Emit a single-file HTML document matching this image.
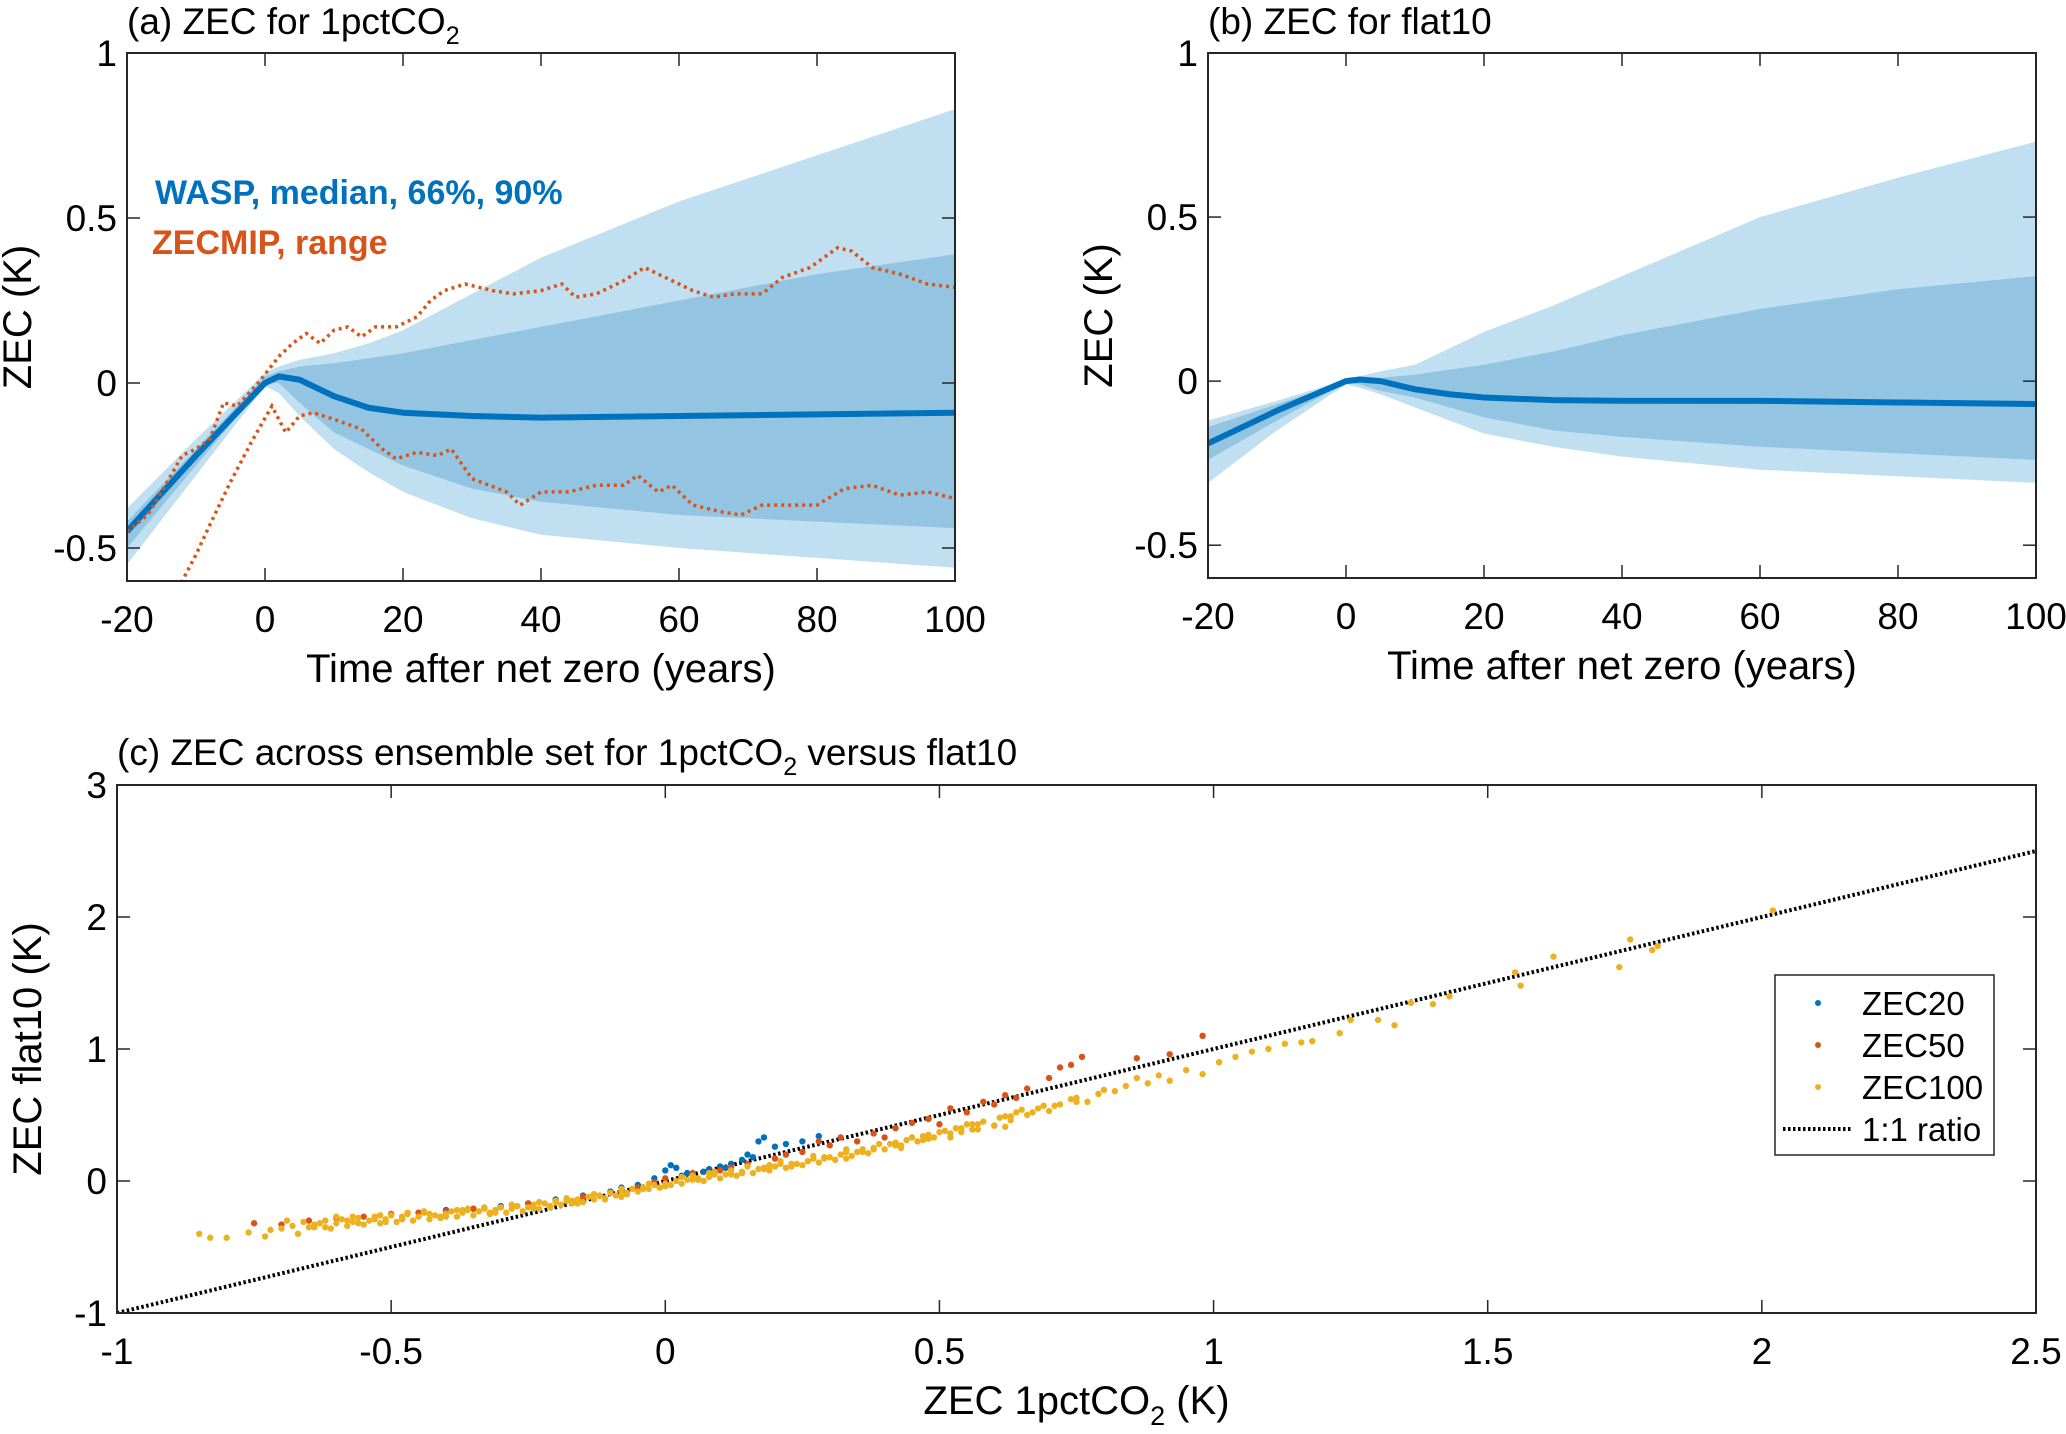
<!DOCTYPE html>
<html><head><meta charset="utf-8"><style>
body{margin:0;background:#fff;}
svg{display:block;font-family:"Liberation Sans",Arial,sans-serif;}
</style></head><body>
<svg id="fig" width="2066" height="1434" viewBox="0 0 2066 1434" xmlns="http://www.w3.org/2000/svg">
<rect x="0" y="0" width="2066" height="1434" fill="#fff"/>
</svg>
<script>
// ---- panel (a) data ----
const aYears=[-20,-10,0,2,5,10,15,20,30,40,60,80,100];
const aMedian=[-0.45,-0.22,0.0,0.02,0.01,-0.04,-0.075,-0.09,-0.1,-0.105,-0.1,-0.095,-0.09];
const a66Up=[-0.42,-0.2,0.02,0.035,0.05,0.06,0.075,0.09,0.13,0.17,0.25,0.33,0.39];
const a66Lo=[-0.5,-0.25,0.0,0.0,-0.06,-0.15,-0.2,-0.25,-0.32,-0.36,-0.4,-0.42,-0.44];
const a90Up=[-0.38,-0.17,0.03,0.05,0.07,0.09,0.12,0.16,0.27,0.38,0.55,0.69,0.83];
const a90Lo=[-0.55,-0.28,-0.01,-0.03,-0.1,-0.2,-0.27,-0.33,-0.41,-0.46,-0.5,-0.53,-0.56];
const zmUpX=[-20,-17,-15,-12,-10,-8,-6,-4,-1,2,4,6,8,10,12,14,16,19,22,24,26,29,33,36,40,43,45,48,52,55,58,62,65,68,72,75,79,83,85,88,92,96,100];
const zmUpY=[-0.45,-0.4,-0.33,-0.22,-0.2,-0.17,-0.06,-0.07,0.0,0.08,0.12,0.15,0.12,0.16,0.17,0.14,0.17,0.17,0.2,0.25,0.28,0.3,0.28,0.27,0.28,0.3,0.26,0.27,0.31,0.35,0.32,0.28,0.26,0.27,0.27,0.32,0.35,0.41,0.4,0.35,0.33,0.3,0.29];
const zmLoX=[-14,-12,-10,-8,-5,-2,1,3,5,7,10,14,17,19,22,25,27,30,35,37,40,44,48,52,54,57,59,62,66,69,72,76,80,84,88,92,96,100];
const zmLoY=[-0.68,-0.6,-0.52,-0.43,-0.3,-0.18,-0.07,-0.15,-0.1,-0.09,-0.11,-0.14,-0.2,-0.23,-0.21,-0.22,-0.2,-0.29,-0.33,-0.37,-0.33,-0.33,-0.31,-0.31,-0.28,-0.33,-0.31,-0.37,-0.39,-0.4,-0.37,-0.37,-0.37,-0.32,-0.31,-0.34,-0.33,-0.35];
// ---- panel (b) data ----
const bYears=[-20,-10,0,2,5,10,15,20,30,40,60,80,100];
const bMedian=[-0.19,-0.09,0.0,0.005,0.0,-0.025,-0.04,-0.05,-0.058,-0.06,-0.06,-0.065,-0.07];
const b66Up=[-0.14,-0.07,0.0,0.005,0.01,0.02,0.035,0.05,0.09,0.14,0.22,0.28,0.32];
const b66Lo=[-0.24,-0.12,-0.005,-0.01,-0.03,-0.05,-0.08,-0.11,-0.15,-0.17,-0.2,-0.22,-0.24];
const b90Up=[-0.12,-0.06,0.005,0.015,0.03,0.05,0.1,0.15,0.23,0.32,0.5,0.62,0.73];
const b90Lo=[-0.31,-0.15,-0.01,-0.02,-0.04,-0.08,-0.12,-0.16,-0.2,-0.23,-0.27,-0.29,-0.31];
// ---- panel (c) data ----
const z20X=[-0.40,-0.35,-0.30,-0.25,-0.20,-0.15,-0.10,-0.05,0.0,0.01,0.02,0.04,0.05,0.08,0.10,0.12,0.14,0.15,0.17,0.18,0.20,0.22,0.25,0.28,0.03,0.07,0.11,0.16,-0.02,-0.08];
const z20Y=[-0.22,-0.21,-0.19,-0.17,-0.14,-0.11,-0.08,-0.03,0.08,0.12,0.10,0.06,0.05,0.09,0.11,0.13,0.16,0.2,0.30,0.33,0.26,0.28,0.30,0.34,0.04,0.07,0.10,0.18,0.02,-0.05];
const z50X=[-0.75,-0.70,-0.65,-0.60,-0.55,-0.50,-0.45,-0.40,-0.35,-0.30,-0.25,-0.20,-0.15,-0.10,-0.05,-0.02,0.0,0.05,0.10,0.15,0.20,0.25,0.30,0.32,0.35,0.38,0.42,0.45,0.48,0.52,0.55,0.58,0.62,0.66,0.70,0.72,0.74,0.76,0.86,0.92,0.98,0.40,0.50,0.60,0.64,0.28,0.22,0.12];
const z50Y=[-0.32,-0.33,-0.30,-0.28,-0.27,-0.25,-0.24,-0.23,-0.21,-0.20,-0.17,-0.15,-0.12,-0.09,-0.05,-0.01,0.02,0.06,0.08,0.13,0.17,0.22,0.27,0.33,0.30,0.36,0.40,0.44,0.47,0.55,0.52,0.60,0.65,0.70,0.78,0.86,0.88,0.94,0.93,0.96,1.10,0.33,0.43,0.58,0.63,0.30,0.20,0.10];
const z100X=[-0.85,-0.83,-0.80,-0.76,-0.73,-0.72,-0.70,-0.68,-0.67,-0.66,-0.65,-0.64,-0.62,-0.61,-0.60,-0.59,-0.58,-0.57,-0.56,-0.55,-0.54,-0.53,-0.52,-0.51,-0.50,-0.49,-0.48,-0.47,-0.46,-0.45,-0.44,-0.43,-0.42,-0.41,-0.40,-0.39,-0.38,-0.37,-0.36,-0.35,-0.34,-0.33,-0.32,-0.31,-0.30,-0.29,-0.28,-0.27,-0.26,-0.25,-0.24,-0.23,-0.22,-0.21,-0.20,-0.19,-0.18,-0.17,-0.16,-0.15,-0.14,-0.13,-0.12,-0.11,-0.10,-0.09,-0.08,-0.07,-0.06,-0.05,-0.04,-0.03,-0.02,-0.01,0.00,0.01,0.02,0.03,0.04,0.06,0.07,0.08,0.10,0.11,0.13,0.14,0.16,0.17,0.19,0.20,0.22,0.23,0.25,0.26,0.28,0.29,0.31,0.32,0.34,0.35,0.37,0.38,0.40,0.41,0.43,0.44,0.46,0.47,0.49,0.50,0.52,0.54,0.55,0.57,0.58,0.60,0.61,0.63,0.64,0.66,0.68,0.70,0.72,0.74,0.77,0.79,0.82,0.84,0.86,0.88,0.90,0.92,0.95,0.98,1.01,1.04,1.07,1.10,1.13,1.16,1.18,1.23,1.25,1.30,1.33,1.36,1.40,1.43,1.56,1.55,1.62,1.74,1.76,1.80,1.81,2.02,
-0.63,-0.58,-0.53,-0.48,-0.43,-0.38,-0.33,-0.28,-0.23,-0.18,-0.13,-0.08,-0.03,0.05,0.09,0.12,0.18,0.21,0.27,0.33,0.36,0.42,0.45,0.48,0.53,0.56,0.62,0.65,0.69,0.75,
-0.69,-0.64,-0.60,-0.56,-0.52,-0.48,-0.44,-0.40,-0.36,-0.32,-0.28,-0.24,-0.20,-0.16,-0.12,-0.08,-0.04,0.00,0.03,0.06,0.09,0.12,0.15,0.18,0.21,0.24,0.27,0.30,0.33,0.36,0.39,0.42,0.45,0.48,0.51,0.54,0.57,0.60,0.63,0.67,0.71,0.75,0.80,
-0.62,-0.57,-0.51,-0.47,-0.41,-0.37,-0.31,-0.27,-0.21,-0.17,-0.11,-0.07,-0.01,0.05,0.08,0.14,0.19,0.23,0.29,0.33,0.38,0.43,0.47,0.52,0.56,0.62];
const z100Y=[-0.40,-0.43,-0.43,-0.39,-0.42,-0.37,-0.36,-0.34,-0.40,-0.31,-0.35,-0.33,-0.30,-0.36,-0.32,-0.29,-0.34,-0.31,-0.28,-0.33,-0.30,-0.27,-0.32,-0.29,-0.26,-0.31,-0.28,-0.25,-0.30,-0.27,-0.24,-0.29,-0.26,-0.28,-0.25,-0.23,-0.27,-0.24,-0.22,-0.26,-0.23,-0.21,-0.25,-0.22,-0.20,-0.24,-0.21,-0.19,-0.23,-0.20,-0.18,-0.21,-0.17,-0.19,-0.16,-0.18,-0.15,-0.17,-0.14,-0.16,-0.12,-0.14,-0.11,-0.13,-0.09,-0.11,-0.08,-0.10,-0.06,-0.08,-0.05,-0.06,-0.03,-0.05,-0.02,-0.03,0.00,-0.02,0.01,0.02,0.00,0.03,0.02,0.05,0.04,0.07,0.06,0.09,0.08,0.11,0.10,0.13,0.12,0.15,0.14,0.17,0.16,0.20,0.19,0.22,0.21,0.25,0.24,0.28,0.27,0.31,0.30,0.34,0.33,0.37,0.36,0.40,0.43,0.39,0.45,0.42,0.48,0.46,0.52,0.50,0.55,0.53,0.58,0.62,0.60,0.66,0.68,0.72,0.78,0.74,0.80,0.76,0.84,0.81,0.90,0.94,0.98,1.00,1.04,1.05,1.06,1.12,1.22,1.22,1.18,1.35,1.34,1.40,1.48,1.58,1.70,1.62,1.83,1.75,1.78,2.05,
-0.32,-0.30,-0.29,-0.27,-0.25,-0.22,-0.20,-0.18,-0.16,-0.13,-0.10,-0.06,-0.02,0.04,0.05,0.08,0.10,0.13,0.17,0.22,0.24,0.29,0.33,0.35,0.40,0.43,0.49,0.54,0.57,0.60,
-0.30,-0.35,-0.27,-0.32,-0.26,-0.29,-0.23,-0.27,-0.21,-0.24,-0.18,-0.21,-0.15,-0.17,-0.11,-0.12,-0.06,-0.04,0.03,0.01,0.07,0.05,0.11,0.09,0.15,0.13,0.19,0.18,0.24,0.22,0.28,0.27,0.33,0.32,0.38,0.37,0.43,0.42,0.49,0.52,0.57,0.63,0.69,
-0.35,-0.27,-0.31,-0.24,-0.27,-0.22,-0.24,-0.19,-0.20,-0.15,-0.14,-0.09,-0.05,0.01,0.06,0.06,0.12,0.11,0.18,0.17,0.24,0.25,0.31,0.33,0.39,0.41];

const NS='http://www.w3.org/2000/svg';
const svg=document.getElementById('fig');
function el(tag,attrs,parent){const e=document.createElementNS(NS,tag);for(const k in attrs)e.setAttribute(k,attrs[k]);(parent||svg).appendChild(e);return e;}
function txt(s,x,y,size,anchor,parent,extra){const t=el('text',Object.assign({x:x,y:y,'font-size':size,'text-anchor':anchor||'start',fill:'#000'},extra||{}),parent);t.textContent=s;return t;}
function scale(d0,d1,r0,r1){return v=>r0+(v-d0)*(r1-r0)/(d1-d0);}

function axesFrame(g,L,R,T,B,xs,ys,xt,yt,xLab,yLab,name){
  const tl=13;
  xt.forEach(v=>{const X=xs(v);
    const t1=el('line',{x1:X,x2:X,y1:B,y2:B-tl,stroke:'#262626','stroke-width':1.5},g);
    
    el('line',{x1:X,x2:X,y1:T,y2:T+tl,stroke:'#262626','stroke-width':1.5},g);
    const lb=txt(xLab(v),X,B+51,37,'middle',g);
    
  });
  yt.forEach(v=>{const Y=ys(v);
    const t1=el('line',{x1:L,x2:L+tl,y1:Y,y2:Y,stroke:'#262626','stroke-width':1.5},g);
    
    el('line',{x1:R,x2:R-tl,y1:Y,y2:Y,stroke:'#262626','stroke-width':1.5},g);
    const lb=txt(yLab(v),L-10,Y+13,37,'end',g);
    
  });
  const box=el('rect',{x:L,y:T,width:R-L,height:B-T,fill:'none',stroke:'#262626','stroke-width':2},g);
  
}
function fmt(v){return (v<0?'-':'')+String(Math.abs(v));}
function area(g,xs,ys,X,U,Lo,color,name){
  let d='';X.forEach((x,i)=>{d+=(i?'L':'M')+xs(x)+','+ys(U[i]);});
  for(let i=X.length-1;i>=0;i--)d+='L'+xs(X[i])+','+ys(Lo[i]);
  const p=el('path',{d:d+'Z',fill:color,stroke:'none'},g);
  return p;
}
function line(g,xs,ys,X,Y,attrs,name){
  const pts=X.map((x,i)=>xs(x)+','+ys(Y[i])).join(' ');
  const p=el('polyline',Object.assign({points:pts,fill:'none'},attrs),g);
  return p;
}

function timePanel(id,L,R,T,B,X,med,u66,l66,u90,l90,title){
  const g=el('g',{});
  
  const xs=scale(-20,100,L,R), ys=scale(-0.6,1,B,T);
  const clipId=id+'-clip';
  const cp=el('clipPath',{id:clipId},g);el('rect',{x:L,y:T,width:R-L,height:B-T},cp);
  const pg=el('g',{'clip-path':'url(#'+clipId+')'},g);
  area(pg,xs,ys,X,u90,l90,'#c0dff0','band-90');
  area(pg,xs,ys,X,u66,l66,'#93c5e2','band-66');
  line(pg,xs,ys,X,med,{stroke:'#0072BD','stroke-width':6,'stroke-linejoin':'round'},'median-line');
  axesFrame(g,L,R,T,B,xs,ys,[-20,0,20,40,60,80,100],[-0.5,0,0.5,1],fmt,fmt,id);
  const xl=txt('Time after net zero (years)',(L+R)/2,B+101,40,'middle',g);
  
  const yl=txt('ZEC (K)',0,0,40,'middle',g,{transform:'translate('+(L-96)+','+((T+B)/2)+') rotate(-90)'});
  
  const tt=el('text',{x:L,y:T-19,'font-size':37,fill:'#000'},g);
  
  tt.innerHTML=title;
  return {g,pg,xs,ys};
}

const A=timePanel('panel-a',127,955,53,581,aYears,aMedian,a66Up,a66Lo,a90Up,a90Lo,'(a) ZEC for 1pctCO<tspan font-size="25" dy="10">2</tspan>');
line(A.pg,A.xs,A.ys,zmUpX,zmUpY,{stroke:'#D95319','stroke-width':3.5,'stroke-dasharray':'3 4'},'zecmip-upper');
line(A.pg,A.xs,A.ys,zmLoX,zmLoY,{stroke:'#D95319','stroke-width':3.5,'stroke-dasharray':'3 4'},'zecmip-lower');
const an1=txt('WASP, median, 66%, 90%',155,204,34,'start',A.g,{'font-weight':'bold',fill:'#0072BD'});

const an2=txt('ZECMIP, range',152,254,34,'start',A.g,{'font-weight':'bold',fill:'#D95319'});


const Bp=timePanel('panel-b',1208,2036,53,578,bYears,bMedian,b66Up,b66Lo,b90Up,b90Lo,'(b) ZEC for flat10');

// panel c
(function(){
  const L=117,R=2036,T=785,B=1313;
  const g=el('g',{});
  
  const xs=scale(-1,2.5,L,R), ys=scale(-1,3,B,T);
  const cp=el('clipPath',{id:'c-clip'},g);el('rect',{x:L,y:T,width:R-L,height:B-T},cp);
  const pg=el('g',{'clip-path':'url(#c-clip)'},g);
  const ratio=el('line',{x1:xs(-1),y1:ys(-1),x2:xs(2.5),y2:ys(2.5),stroke:'#000','stroke-width':4,'stroke-dasharray':'2.5 2.5'},pg);
  
  function dots(X,Y,color,name){X.forEach((x,i)=>{
    const c=el('circle',{cx:xs(x),cy:ys(Y[i]),r:3.2,fill:color},pg);
    });}
  dots(z20X,z20Y,'#0072BD','zec20-point');
  dots(z50X,z50Y,'#D95319','zec50-point');
  dots(z100X,z100Y,'#EDB120','zec100-point');
  axesFrame(g,L,R,T,B,xs,ys,[-1,-0.5,0,0.5,1,1.5,2,2.5],[-1,0,1,2,3],fmt,fmt,'panel-c');
  const xl=el('text',{x:(L+R)/2,y:B+101,'font-size':40,'text-anchor':'middle',fill:'#000'},g);
  xl.innerHTML='ZEC 1pctCO<tspan font-size="27" dy="11">2</tspan><tspan dy="-11"> (K)</tspan>';
  
  const yl=txt('ZEC flat10 (K)',0,0,40,'middle',g,{transform:'translate('+(L-76)+','+((T+B)/2)+') rotate(-90)'});
  
  const tt=el('text',{x:L,y:765,'font-size':37,fill:'#000'},g);
  tt.innerHTML='(c) ZEC across ensemble set for 1pctCO<tspan font-size="25" dy="10">2</tspan><tspan dy="-10"> versus flat10</tspan>';
  
  // legend
  const lg=el('g',{},g);
  
  el('rect',{x:1775,y:975,width:219,height:180,fill:'#fff',stroke:'#262626','stroke-width':1.5},lg);
  const items=[['ZEC20','#0072BD'],['ZEC50','#D95319'],['ZEC100','#EDB120']];
  items.forEach((it,i)=>{const y=1003+i*42;
    el('circle',{cx:1818,cy:y,r:3,fill:it[1]},lg);
    const t=txt(it[0],1862,y+12,33,'start',lg);
    });
  el('line',{x1:1783,x2:1851,y1:1129,y2:1129,stroke:'#000','stroke-width':4,'stroke-dasharray':'2.5 2.5'},lg);
  const t=txt('1:1 ratio',1862,1141,33,'start',lg);
  
})();
</script>
</body></html>
